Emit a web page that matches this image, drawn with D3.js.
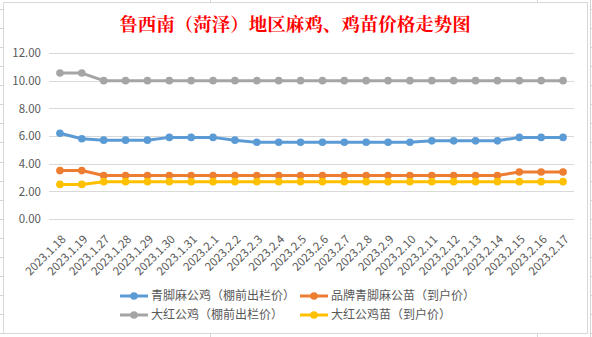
<!DOCTYPE html>
<html><head><meta charset="utf-8">
<script src="https://cdn.jsdelivr.net/npm/d3@7"></script>
<style>
html,body{margin:0;padding:0;background:#fff;}
svg{display:block;}
</style></head>
<body>
<svg id="c" width="592" height="337"></svg>
<script>
const title = "鲁西南（菏泽）地区麻鸡、鸡苗价格走势图";
const dates = ["2023.1.18","2023.1.19","2023.1.27","2023.1.28","2023.1.29","2023.1.30","2023.1.31","2023.2.1","2023.2.2","2023.2.3","2023.2.4","2023.2.5","2023.2.6","2023.2.7","2023.2.8","2023.2.9","2023.2.10","2023.2.11","2023.2.12","2023.2.13","2023.2.14","2023.2.15","2023.2.16","2023.2.17"];
const seriesNames = ["青脚麻公鸡（棚前出栏价）","品牌青脚麻公苗（到户价）","大红公鸡（棚前出栏价）","大红公鸡苗（到户价）"];
const qingjiaoRooster = [6.2,5.8,5.7,5.7,5.7,5.9,5.9,5.9,5.7,5.55,5.55,5.55,5.55,5.55,5.55,5.55,5.55,5.65,5.65,5.65,5.65,5.9,5.9,5.9];
const brandChick = [3.5,3.5,3.15,3.15,3.15,3.15,3.15,3.15,3.15,3.15,3.15,3.15,3.15,3.15,3.15,3.15,3.15,3.15,3.15,3.15,3.15,3.4,3.4,3.4];
const redRooster = [10.55,10.55,10,10,10,10,10,10,10,10,10,10,10,10,10,10,10,10,10,10,10,10,10,10];
const redChick = [2.5,2.5,2.7,2.7,2.7,2.7,2.7,2.7,2.7,2.7,2.7,2.7,2.7,2.7,2.7,2.7,2.7,2.7,2.7,2.7,2.7,2.7,2.7,2.7];
const yTicks = [0,2,4,6,8,10,12];
const colors = ["#5B9BD5","#ED7D31","#A5A5A5","#FFC000"];
const allSeries = [qingjiaoRooster, brandChick, redRooster, redChick];

const svg = d3.select("#c");
const font = "'Noto Sans CJK SC','Noto Sans',sans-serif";

// spreadsheet background
const bg = svg.append("g").attr("stroke","#d4d4d4").attr("stroke-width",1);
d3.range(0,18).forEach(k=>{
  const y = Math.round(9 + 19.07*k)+0.5;
  bg.append("line").attr("x1",0).attr("x2",3).attr("y1",y).attr("y2",y);
  bg.append("line").attr("x1",590).attr("x2",592).attr("y1",y).attr("y2",y);
});
bg.append("line").attr("x1",590.5).attr("x2",590.5).attr("y1",0).attr("y2",337);
[210.5,537.5].forEach(x=>{
  bg.append("line").attr("x1",x).attr("x2",x).attr("y1",0).attr("y2",3);
  bg.append("line").attr("x1",x).attr("x2",x).attr("y1",334).attr("y2",337);
});

// chart frame
svg.append("rect").attr("x",3.5).attr("y",2.5).attr("width",584).attr("height",331)
  .attr("fill","#fff").attr("stroke","#d9d9d9").attr("stroke-width",1);

// title
svg.append("text").attr("x",295).attr("y",30.5).attr("text-anchor","middle")
  .attr("font-family","'Noto Serif CJK SC','Noto Sans CJK SC',serif").attr("font-weight","bold")
  .attr("font-size","18.5px").attr("fill","#ff0000").text(title);

const x = d3.scalePoint().domain(dates).range([49,574]).padding(0.5);
const y = d3.scaleLinear().domain([0,12]).range([219,53]);

// gridlines
const grid = svg.append("g");
grid.selectAll("line").data(yTicks).join("line")
  .attr("x1",49).attr("x2",574)
  .attr("y1",d=>Math.round(y(d))+0.5).attr("y2",d=>Math.round(y(d))+0.5)
  .attr("stroke","#d9d9d9").attr("stroke-width",1);

// y axis labels via d3 axis
const yAxis = svg.append("g").attr("transform","translate(49,0)")
  .call(d3.axisLeft(y).tickValues(yTicks).tickFormat(d3.format(".2f")).tickSize(0).tickPadding(8));
yAxis.select(".domain").remove();
yAxis.selectAll("text").attr("fill","#595959").attr("font-family",font).attr("font-size","11.5px");

// x axis labels
const xAxis = svg.append("g").attr("transform","translate(0,219)")
  .call(d3.axisBottom(x).tickSize(0).tickPadding(0));
xAxis.select(".domain").remove();
xAxis.selectAll(".tick text")
  .attr("fill","#595959").attr("font-family",font).attr("font-size","11.5px")
  .attr("text-anchor","end").attr("dy",null).attr("y",null)
  .attr("transform","translate(6,21) rotate(-45)");

// series
const line = d3.line().x((d,i)=>x(dates[i])).y(d=>y(d));
allSeries.forEach((vals,si)=>{
  const g = svg.append("g");
  g.append("path").datum(vals).attr("d",line).attr("fill","none")
    .attr("stroke",colors[si]).attr("stroke-width",3).attr("stroke-linejoin","round").attr("stroke-linecap","round");
  g.selectAll("circle").data(vals).join("circle")
    .attr("cx",(d,i)=>x(dates[i])).attr("cy",d=>y(d)).attr("r",3.8).attr("fill",colors[si]);
});

// legend
const legendPos = [[120,296],[300,296],[120,315],[300,315]];
seriesNames.forEach((name,i)=>{
  const [lx,ly] = legendPos[i];
  const g = svg.append("g").attr("transform",`translate(${lx},${ly})`);
  g.append("line").attr("x1",0).attr("x2",28).attr("y1",0).attr("y2",0)
    .attr("stroke",colors[i]).attr("stroke-width",3);
  g.append("circle").attr("cx",14).attr("cy",0).attr("r",3.8).attr("fill",colors[i]);
  g.append("text").attr("x",31).attr("y",0).attr("dy","0.35em")
    .attr("font-family",font).attr("font-size","12px").attr("fill","#595959").text(name);
});
</script>
</body></html>
